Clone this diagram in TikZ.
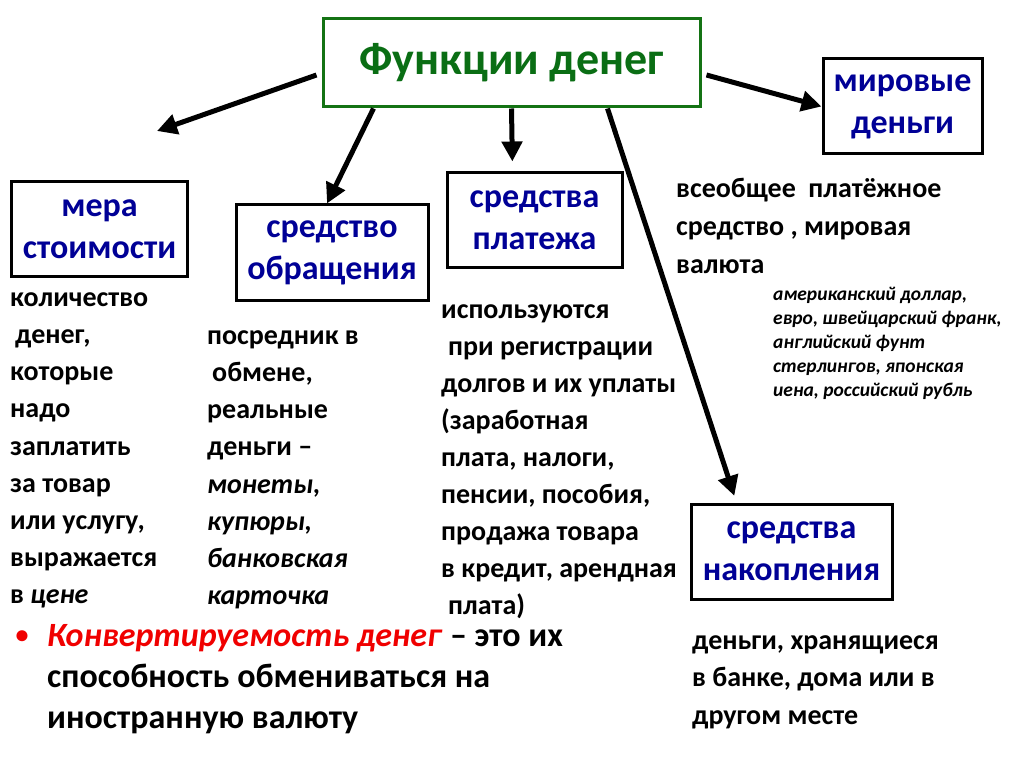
\documentclass[tikz,border=0pt]{standalone}
\usepackage{fontspec}
\setmainfont{Carlito}
\usetikzlibrary{arrows.meta}
\definecolor{titlegreen}{RGB}{10,110,20}
\definecolor{boxgreen}{RGB}{20,115,20}
\definecolor{boxblue}{RGB}{0,0,150}
\definecolor{bulletred}{RGB}{240,0,0}
\begin{document}
\begin{tikzpicture}[x=1pt,y=-1pt,
  fbox/.style={draw=black,line width=3pt,inner sep=0pt,align=center,text=boxblue,
    font=\fontsize{34}{42}\selectfont\bfseries},
  body/.style={anchor=north west,inner sep=0pt,align=left,
    font=\fontsize{28}{37.2}\selectfont\bfseries},
  arr/.style={line width=5pt,-{Triangle[length=20pt,width=20pt]}}]
\useasboundingbox[fill=white] (0,0) rectangle (1024,767);
% title
\node[draw=boxgreen,line width=3pt,minimum width=377pt,minimum height=88pt,inner sep=0pt,
  text=titlegreen,font=\fontsize{46}{50}\selectfont\bfseries] (t) at (511.5,63) {Функции денег};
% boxes
\node[fbox,minimum width=176pt,minimum height=95pt] (mera) at (99.5,229) {мера\\стоимости};
\node[fbox,minimum width=192pt,minimum height=95pt] (obr) at (332,252.5) {средство\\обращения};
\node[fbox,minimum width=175pt,minimum height=94pt] (plat) at (534.5,220) {средства\\платежа};
\node[fbox,minimum width=159pt,minimum height=95pt] (mir) at (902.5,106.5) {мировые\\деньги};
\node[fbox,minimum width=201pt,minimum height=95pt] (nak) at (791.5,551.5) {средства\\накопления};
% arrows
\coordinate (c1) at (157,131);
\draw[arr] ([shift={(-5pt,-12pt)}]t.west) -- (c1);
\draw[arr] ([xshift=-138pt]t.south) -- ([xshift=-5pt]obr.north);
\draw[arr,shorten >=10pt] (t.south) -- ([xshift=-22pt]plat.north);
\draw[arr] ([shift={(5pt,-12pt)}]t.east) -- (mir.west);
\draw[arr,shorten >=7pt] ([xshift=96pt]t.south) -- ([xshift=-55pt]nak.north);
% texts
\node[body] (txa) at (10,280) {\strut количество\\\hspace*{5pt}денег,\\которые\\надо\\заплатить\\за товар\\или услугу,\\выражается\\в \textit{цене}};
\node[body] (txb) at (207,318) {\strut посредник в\\\hspace*{5pt}обмене,\\реальные\\деньги –\\\textit{монеты,}\\\textit{купюры,}\\\textit{банковская}\\\textit{карточка}};
\node[body,font=\fontsize{28}{37}\selectfont\bfseries] (txc) at (441,292.5) {\strut используются\\\hspace*{7pt}при регистрации\\долгов и их уплаты\\(заработная\\плата, налоги,\\пенсии, пособия,\\продажа товара\\в кредит, арендная\\\hspace*{7pt}плата)};
\node[body,font=\fontsize{28}{38}\selectfont\bfseries] (txd) at (676,171) {\strut всеобщее\ \ платёжное\\средство , мировая\\валюта};
\node[body,font=\fontsize{19.5}{23.8}\selectfont\bfseries\itshape] (txe) at (773,284) {\strut американский доллар,\\евро, швейцарский франк,\\английский фунт\\стерлингов, японская\\иена, российский рубль};
\node[body,font=\fontsize{28}{37.5}\selectfont\bfseries] (txf) at (692,623) {\strut деньги, хранящиеся\\в банке, дома или в\\другом месте};
% bullet
\node[body,font=\fontsize{34}{41}\selectfont\bfseries] (txg) at (47,624) {\textcolor{bulletred}{\textit{Конвертируемость денег}} – это их\\способность обмениваться на\\иностранную валюту};
\node[inner sep=0pt,text=bulletred,font=\fontsize{26}{30}\selectfont\bfseries] (bul) at (22,637) {•};
\end{tikzpicture}
\end{document}
